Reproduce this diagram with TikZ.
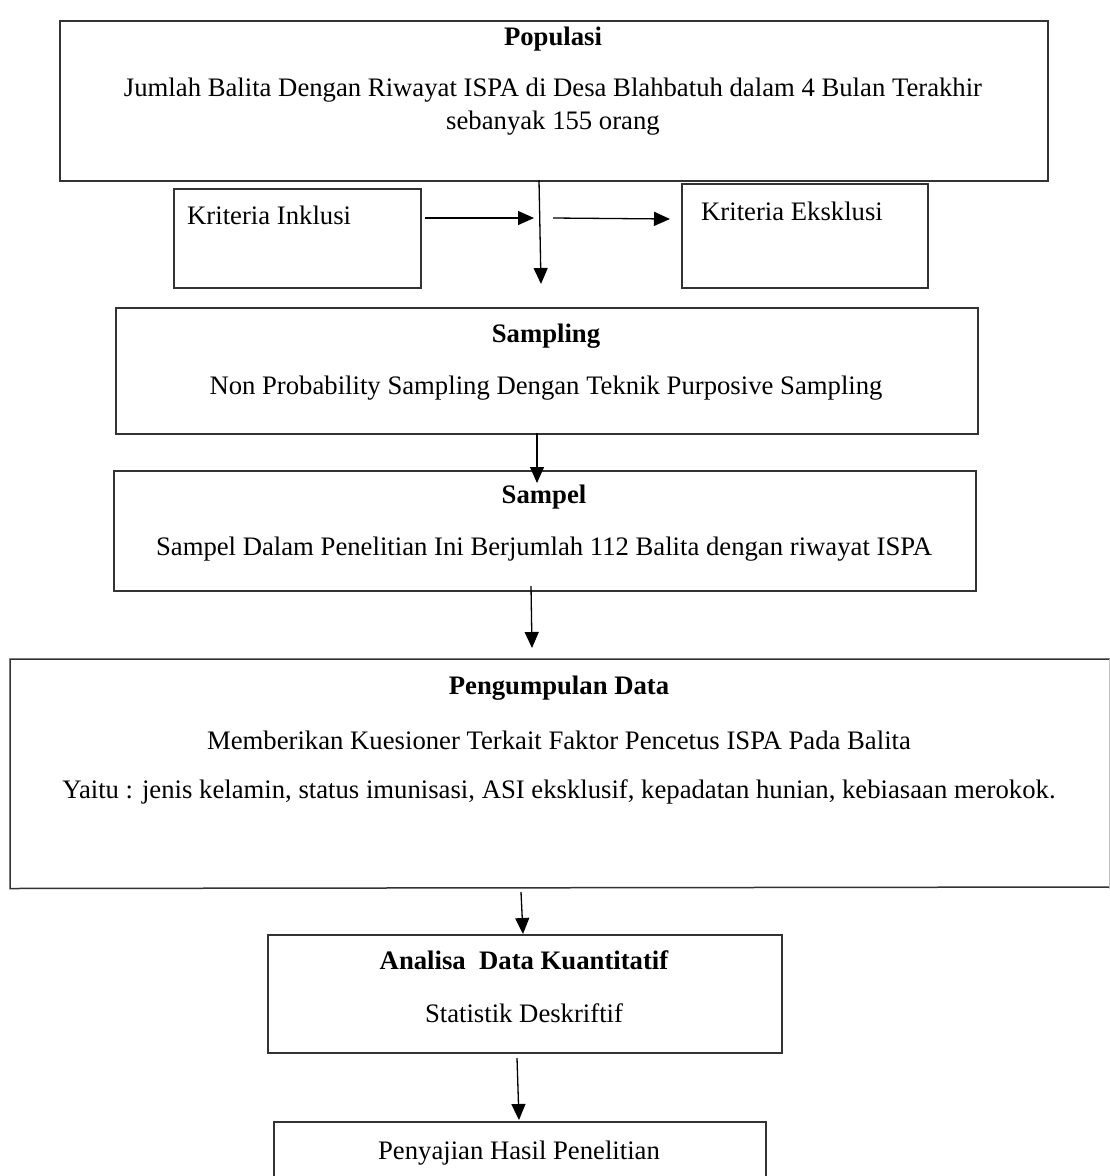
\documentclass[tikz,border=0pt]{standalone}
\usepackage{fontspec}
\setmainfont{Liberation Serif}
\usetikzlibrary{arrows.meta}
\begin{document}
\begin{tikzpicture}[x=1pt,y=-1pt,
  box/.style={draw=black!80, line width=1.5pt, rectangle, inner sep=0pt, anchor=north west},
  conn/.style={draw=black, line width=1.3pt, -{Triangle[length=16pt,width=14pt]}},
  txt/.style={inner sep=0pt, font=\fontsize{26.7}{30}\selectfont},
  ttl/.style={inner sep=0pt, font=\fontsize{26.7}{30}\selectfont\bfseries}]
\clip (0,0) rectangle (1110,1176);
\fill[white] (0,0) rectangle (1110,1176);

% boxes
\node[box, minimum width=988pt, minimum height=160pt] (pop) at (59,20) {};
\node[box, minimum width=247pt, minimum height=99pt] (inkl) at (173,188) {};
\node[box, minimum width=246pt, minimum height=104pt] (eksk) at (681,183) {};
\node[box, minimum width=862pt, minimum height=126pt] (samp) at (115,307) {};
\node[box, minimum width=862pt, minimum height=120pt] (sampel) at (113,470) {};
\node[box, draw=none, minimum width=1098pt, minimum height=228pt] (peng) at (10,659) {};
\draw[draw=black!80, line width=1.5pt] (1112,659) -- (peng.north west) -- (peng.south west) -- (1112,887);
\draw[draw=black!25, line width=1pt] (peng.north east) -- (peng.south east);
\node[box, minimum width=514pt, minimum height=118pt] (anal) at (267,934) {};
\node[box, minimum width=492pt, minimum height=90pt] (saji) at (273,1121) {};

% texts
\node[ttl] (tpop) at (553,39) {Populasi};
\node[txt] (tpop1) at (553,90) {Jumlah Balita Dengan Riwayat ISPA di Desa Blahbatuh dalam 4 Bulan Terakhir};
\node[txt] (tpop2) at (553,123) {sebanyak 155 orang};
\node[txt, anchor=west] (tinkl) at (187,215) {Kriteria Inklusi};
\node[txt, anchor=west] (teksk) at (701,211) {Kriteria Eksklusi};
\node[ttl] (tsamp) at (546,336) {Sampling};
\node[txt] (tsamp1) at (546,388) {Non Probability Sampling Dengan Teknik Purposive Sampling};
\node[ttl] (tsampel) at (544,497) {Sampel};
\node[txt] (tsampel1) at (544,549) {Sampel Dalam Penelitian Ini Berjumlah 112 Balita dengan riwayat ISPA};
\node[ttl] (tpeng) at (559,688) {Pengumpulan Data};
\node[txt] (tpeng1) at (559,740) {Memberikan Kuesioner Terkait Faktor Pencetus ISPA Pada Balita};
\node[txt] (tpeng2) at (559,792) {Yaitu : jenis kelamin, status imunisasi, ASI eksklusif, kepadatan hunian, kebiasaan merokok.};
\node[ttl] (tanal) at (524,960) {Analisa~ Data Kuantitatif};
\node[txt] (tanal1) at (524,1013) {Statistik Deskriftif};
\node[txt] (tsaji) at (519,1153) {Penyajian Hasil Penelitian};

% connector end points
\coordinate (a1s) at (425,218); \coordinate (a1e) at (534,218);
\coordinate (a2s) at (553,218); \coordinate (a2e) at (670,219);
\coordinate (v1s) at (539,180); \coordinate (v1e) at (541,284);
\coordinate (v2s) at (537,433); \coordinate (v2e) at (537,483);
\coordinate (v3s) at (531,586); \coordinate (v3e) at (532,648);
\coordinate (v4s) at (521,892); \coordinate (v4e) at (523,934);
\coordinate (v5s) at (517,1058); \coordinate (v5e) at (519,1120);

\draw[conn] (a1s) -- (a1e);
\draw[conn] (a2s) -- (a2e);
\draw[conn] (v1s) -- (v1e);
\draw[conn] (v2s) -- (v2e);
\draw[conn] (v3s) -- (v3e);
\draw[conn] (v4s) -- (v4e);
\draw[conn] (v5s) -- (v5e);
\end{tikzpicture}
\end{document}
